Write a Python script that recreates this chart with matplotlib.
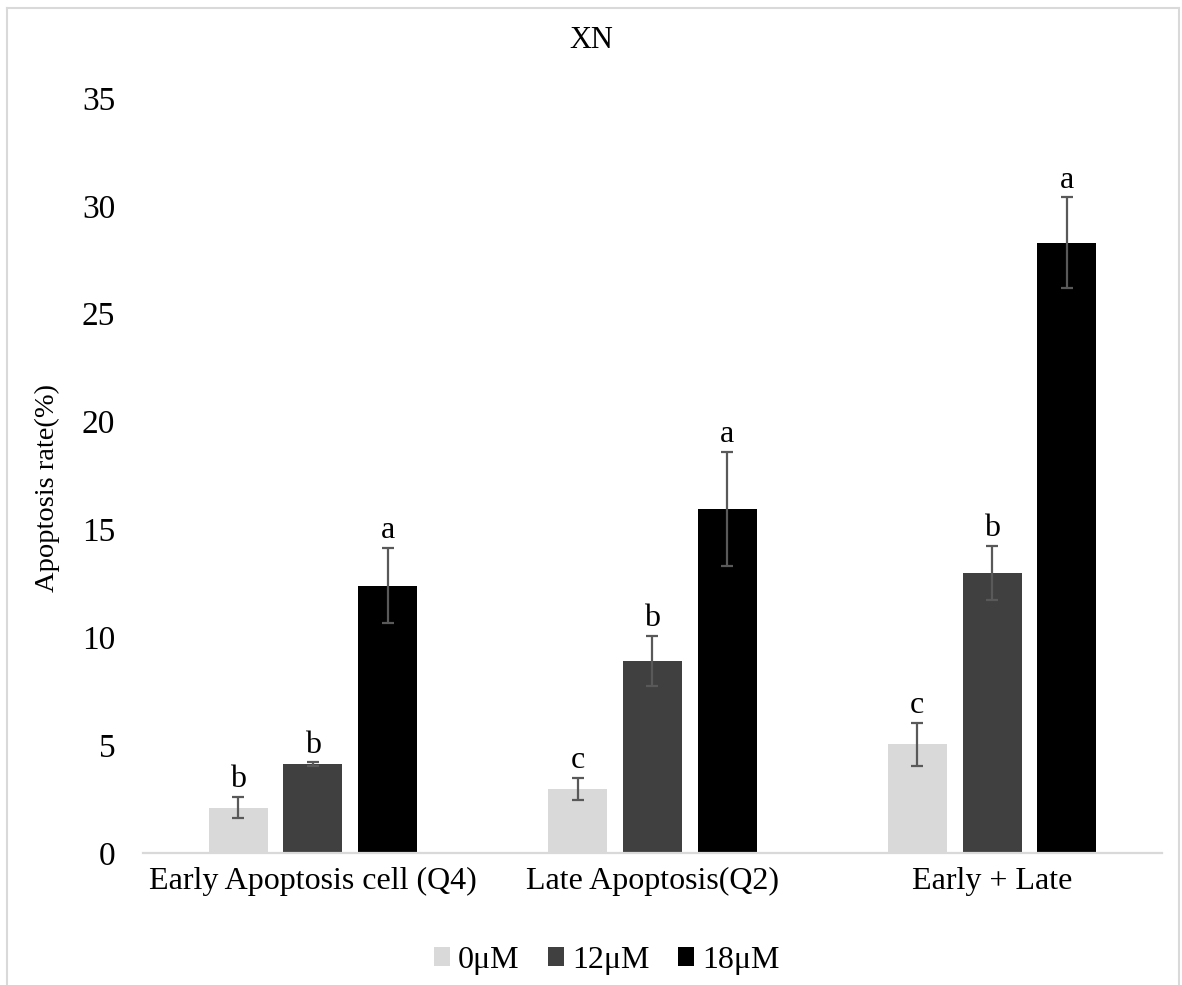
import numpy as np
import matplotlib
matplotlib.use("Agg")
import matplotlib.pyplot as plt
from matplotlib.lines import Line2D

plt.rcParams['font.family'] = ['Liberation Serif', 'DejaVu Serif']

categories = ['Early Apoptosis cell (Q4)', 'Late Apoptosis(Q2)', 'Early + Late']
doses = ['0μM', '12μM', '18μM']
means = {
    '0μM': [2.1, 2.97, 5.05],
    '12μM': [4.12, 8.9, 13.0],
    '18μM': [12.4, 15.95, 28.3],
}
errors = {
    '0μM': [0.5, 0.5, 1.0],
    '12μM': [0.08, 1.16, 1.25],
    '18μM': [1.75, 2.63, 2.1],
}
letters = {
    '0μM': ['b', 'c', 'c'],
    '12μM': ['b', 'b', 'b'],
    '18μM': ['a', 'a', 'a'],
}
colors = ['#D9D9D9', '#404040', '#000000']

fig = plt.figure(figsize=(11.82, 9.85), dpi=100)
ax = fig.add_axes([0.121, 0.134, 0.862, 0.7665])

x = np.arange(len(categories))
width = 0.1735
step = 0.22

for i, d in enumerate(doses):
    pos = x + (i - 1) * step
    ax.bar(pos, means[d], width, color=colors[i], label=d, zorder=2)
    ax.errorbar(pos, means[d], yerr=errors[d], fmt='none', ecolor='#595959',
                elinewidth=1.6, capsize=4.5, capthick=1.6, zorder=3)
    # significance letters above the error bars
    for p, m, e, t in zip(pos, means[d], errors[d], letters[d]):
        ax.annotate(t, (p, m + e), xytext=(0, 7), textcoords='offset points',
                    ha='center', va='baseline', fontsize=23)

ax.set_xlim(-0.5, 2.5)
ax.set_ylim(0, 35)
ax.set_yticks(np.arange(0, 36, 5))
ax.set_xticks(x)
ax.set_xticklabels(categories, fontsize=23)
ax.tick_params(axis='y', length=0, pad=20, labelsize=24)
ax.tick_params(axis='x', length=0, pad=10)
for s in ['left', 'right', 'top']:
    ax.spines[s].set_visible(False)
ax.spines['bottom'].set_color('#D9D9D9')
ax.spines['bottom'].set_linewidth(1.6)

ax.set_ylabel('Apoptosis rate(%)', fontsize=20.5)
ax.yaxis.set_label_coords(-0.081, 0.483)
fig.text(0.5, 1 - 40 / 985, 'XN', ha='center', va='center', fontsize=22)

ax.legend(loc='upper center', bbox_to_anchor=(0.455, -0.085), ncol=3, frameon=False,
          fontsize=23, handlelength=0.5, handleheight=0.5, handletextpad=0.25,
          columnspacing=0.9)

# light outer frame
bc = '#D9D9D9'
fig.add_artist(Line2D([7 / 1182, 7 / 1182], [0, 1 - 8 / 985], color=bc, lw=1.5))
fig.add_artist(Line2D([7 / 1182, 1179 / 1182], [1 - 8 / 985, 1 - 8 / 985], color=bc, lw=1.5))
fig.add_artist(Line2D([1179 / 1182, 1179 / 1182], [0, 1 - 8 / 985], color=bc, lw=1.5))

fig.savefig('out.png', dpi=100)
